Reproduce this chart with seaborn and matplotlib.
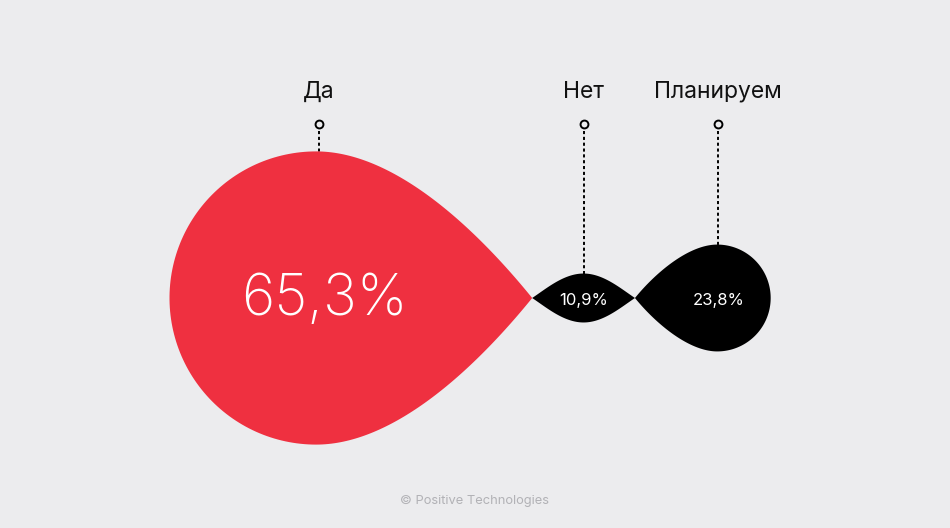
import numpy as np
import matplotlib
matplotlib.use("Agg")
import matplotlib.pyplot as plt
import seaborn as sns
import pandas as pd

# ---- data ----
categories = ["Да", "Нет", "Планируем"]
values = [65.3, 10.9, 23.8]
value_labels = ["65,3%", "10,9%", "23,8%"]
source_text = "© Positive Technologies"

# ---- style ----
BG = "#ECECEE"
RED = "#EF3040"
BLACK = "#000000"
colors = [RED, BLACK, BLACK]
kinds = ["drop_right", "lens", "drop_left"]

sns.set_theme(style="white", rc={"axes.facecolor": BG, "figure.facecolor": BG})
plt.rcParams["font.family"] = ["Inter", "Roboto", "DejaVu Sans"]

fig = plt.figure(figsize=(9.5, 5.28), dpi=100)
ax = fig.add_axes([0, 0, 1, 1])

SCALE = 2.245      # px of radius per percentage point
CY = 298.0         # vertical centre line
X0 = 169.5         # left edge of the first shape


def bezier(p0, p1, p2, p3, n=80):
    t = np.linspace(0, 1, n)[:, None]
    p0, p1, p2, p3 = map(np.asarray, (p0, p1, p2, p3))
    return ((1 - t) ** 3) * p0 + 3 * ((1 - t) ** 2) * t * p1 + 3 * (1 - t) * t ** 2 * p2 + t ** 3 * p3


def drop(cx, r, d, direction):
    s = direction
    upper = bezier((0, -r), (0.546 * r, -r), (d - 0.365 * r, -0.45 * r), (d, 0))
    lower = upper[::-1] * np.array([1, -1])
    lower = lower[1:]
    th = np.linspace(np.pi / 2, 1.5 * np.pi, 120)
    arc = np.column_stack([r * np.cos(th), r * np.sin(th)])
    pts = np.vstack([upper, lower, arc])
    return cx + s * pts[:, 0], CY + pts[:, 1]


def lens(cx, r, L):
    upper = bezier((0, -r), (0.8 * r, -r), (L - 0.6 * r, -0.4 * r), (L, 0))
    right_low = (upper[::-1] * np.array([1, -1]))[1:]
    half = np.vstack([upper, right_low])
    other = (half[::-1] * np.array([-1, 1]))[1:]
    pts = np.vstack([half, other])
    return cx + pts[:, 0], CY + pts[:, 1]


tip_ratio = {"drop_right": 1.474, "drop_left": 1.54}
lens_ratio = 2.1

x = X0
tops = []
centers = []
for val, kind, col in zip(values, kinds, colors):
    r = val * SCALE
    if kind == "drop_right":
        cx = x + r
        xs, ys = drop(cx, r, tip_ratio[kind] * r, +1)
        x = cx + tip_ratio[kind] * r
    elif kind == "lens":
        L = lens_ratio * r
        cx = x + L
        xs, ys = lens(cx, r, L)
        x = cx + L
    else:
        d = tip_ratio[kind] * r
        cx = x + d
        xs, ys = drop(cx, r, d, -1)
        x = cx + r
    ax.fill(xs, ys, color=col, lw=0, zorder=2)
    tops.append(CY - r)
    centers.append(cx)

# leaders sit slightly right of the red drop's centre in the reference
leader_x = [centers[0] + 3, centers[1], centers[2] + 1]

marker_y = 123.5
for lx, top in zip(leader_x, tops):
    ax.plot([lx, lx], [131, top + 1], color="black", lw=1.4,
            linestyle=(0, (1.6, 1.4)), zorder=1, solid_capstyle="butt")

df = pd.DataFrame({"x": leader_x, "y": [marker_y] * len(leader_x), "cat": categories})
sns.scatterplot(data=df, x="x", y="y", ax=ax, s=32, marker="o",
                facecolor=BG, edgecolor="black", linewidth=1.4, zorder=3, legend=False)
ax.set_xlim(0, 950)
ax.set_ylim(528, 0)
ax.axis("off")

for lx, cat in zip(leader_x, categories):
    ax.text(lx, 98, cat, ha="center", va="baseline", fontsize=16.5, color="#111111")

# value labels
label_offsets = [8, 0, 1]
label_sizes = [41, 12, 12]
label_weights = ["light", "normal", "normal"]
for cx, lab, off, fs, fw in zip(centers, value_labels, label_offsets, label_sizes, label_weights):
    ax.text(cx + off, 300, lab, ha="center", va="center", fontsize=fs,
            color="white", fontweight=fw, zorder=4)

ax.text(474, 501, source_text, ha="center", va="center", fontsize=9.3, color="#B2B2B6")

fig.savefig("out.png", dpi=100, facecolor=BG)
